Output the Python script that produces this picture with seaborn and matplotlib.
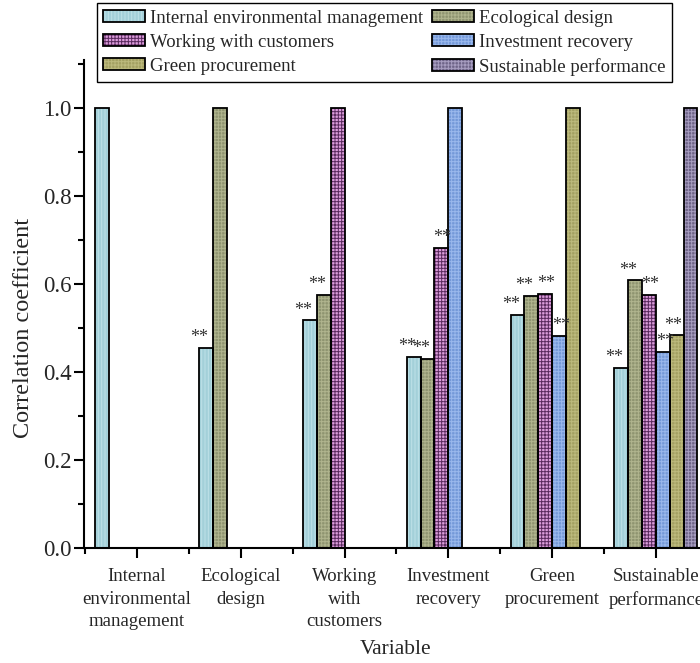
import numpy as np
import pandas as pd
import matplotlib
matplotlib.use("Agg")
import matplotlib.pyplot as plt
from matplotlib.patches import Patch, Rectangle
from matplotlib.ticker import FixedLocator, MultipleLocator
from matplotlib.legend_handler import HandlerTuple
import seaborn as sns

# ---------------- data ----------------
categories = ["Internal environmental management", "Ecological design",
              "Working with customers", "Investment recovery",
              "Green procurement", "Sustainable performance"]
tick_labels = ["Internal\nenvironmental\nmanagement", "Ecological\ndesign",
               "Working\nwith\ncustomers", "Investment\nrecovery",
               "Green\nprocurement", "Sustainable\nperformance"]
series_names = list(categories)
nan = np.nan
iem_values = [1.000, 0.455, 0.517, 0.435, 0.529, 0.409]
ed_values = [nan, 1.000, 0.575, 0.430, 0.573, 0.608]
wwc_values = [nan, nan, 1.000, 0.681, 0.577, 0.575]
ir_values = [nan, nan, nan, 1.000, 0.482, 0.445]
gp_values = [nan, nan, nan, nan, 1.000, 0.483]
sp_values = [nan, nan, nan, nan, nan, 1.000]
sig_label = "**"

all_values = [iem_values, ed_values, wwc_values, ir_values, gp_values, sp_values]
rows = []
for s, vals in zip(series_names, all_values):
    for c, v in zip(categories, vals):
        if not np.isnan(v):
            rows.append({"Variable": c, "Series": s, "r": v})
df = pd.DataFrame(rows)

# ---------------- style ----------------
face_colors = ["#a3d0d9", "#8e9470", "#dc9ddc", "#7499d8", "#a3a062", "#6e6488"]
hatch_colors = ["#bfe2e8", "#b0b48e", "#5a2a5e", "#9ab8ec", "#bcb97c", "#a79dc0"]
hatches = ["|||||", "+++++", "+++++", "+++++", "+++++", "+++++"]
label_dx = [-0.065, -0.065, 0.01, 0.02, -0.03, 0.0]

sns.set_theme(style="ticks")
plt.rcParams["font.family"] = ["Liberation Serif", "DejaVu Serif"]
plt.rcParams["hatch.linewidth"] = 0.7
plt.rcParams["axes.linewidth"] = 1.5

fig = plt.figure(figsize=(7.0, 6.63), dpi=100)
ax = fig.add_axes([84 / 700, (663 - 548.3) / 663, 623.8 / 700, 488.3 / 663])

sns.barplot(data=df, x="Variable", y="r", hue="Series", order=categories,
            hue_order=series_names, palette=face_colors, width=0.8,
            edgecolor="black", linewidth=1.3, saturation=1, ax=ax,
            legend=False, errorbar=None)

for i, cont in enumerate(ax.containers):
    for bar in cont:
        bar.set_hatch(hatches[i])
        bar.set_edgecolor(hatch_colors[i])
        bar.set_linewidth(0)
        outline = Rectangle(bar.get_xy(), bar.get_width(), bar.get_height(),
                            fill=False, edgecolor="black", linewidth=1.3,
                            zorder=bar.get_zorder() + 0.1)
        ax.add_patch(outline)
        h = bar.get_height()
        if np.isfinite(h) and h < 0.999:
            cx = bar.get_x() + bar.get_width() / 2 + label_dx[i]
            ax.text(cx, h + 0.004, sig_label, ha="center", va="bottom",
                    fontsize=13, color="#333333")

ax.set_xlim(-0.51, 5.5)
ax.set_ylim(0, 1.108)
ax.set_xticks(range(len(categories)))
ax.set_xticklabels(tick_labels, fontsize=13.5, linespacing=1.45)
ax.xaxis.set_minor_locator(FixedLocator(np.arange(-0.5, 6.0, 1.0)))
ax.set_yticks([0.0, 0.2, 0.4, 0.6, 0.8, 1.0])
ax.set_yticklabels(["0.0", "0.2", "0.4", "0.6", "0.8", "1.0"], fontsize=16.5)
ax.yaxis.set_minor_locator(MultipleLocator(0.1))
ax.tick_params(axis="both", which="major", direction="out", length=7,
               width=1.5, color="black")
ax.tick_params(axis="x", which="major", pad=7)
ax.tick_params(axis="y", which="major", pad=2)
ax.tick_params(axis="both", which="minor", direction="out", length=4,
               width=1.5, color="black")
ax.spines["top"].set_visible(False)
ax.spines["right"].set_visible(False)
for sp in ["left", "bottom"]:
    ax.spines[sp].set_color("black")
ax.set_xlabel("Variable", fontsize=15.5, labelpad=7)
ax.set_ylabel("Correlation coefficient", fontsize=17.5)
ax.yaxis.set_label_coords(-0.08, 0.5 / 1.108)

handles = []
for i, s in enumerate(series_names):
    fill = Patch(facecolor=face_colors[i], edgecolor=hatch_colors[i],
                 linewidth=0, hatch=hatches[i])
    edge = Patch(fill=False, edgecolor="black", linewidth=1.3)
    handles.append((fill, edge))
order = [0, 2, 4, 1, 3, 5]
leg = fig.legend(handles=[handles[k] for k in order],
                 labels=[series_names[k] for k in order],
                 handler_map={tuple: HandlerTuple(ndivide=1)},
                 loc="upper left", ncol=2,
                 bbox_to_anchor=(96.7 / 700, 1 - 3 / 663),
                 fontsize=13.5, frameon=True, fancybox=False,
                 edgecolor="black", framealpha=1, borderpad=0.35,
                 handlelength=2.25, handleheight=0.65, handletextpad=0.25,
                 columnspacing=0.45, labelspacing=0.38, borderaxespad=0)
leg.get_frame().set_linewidth(1.0)

fig.savefig("out.png", dpi=100)
